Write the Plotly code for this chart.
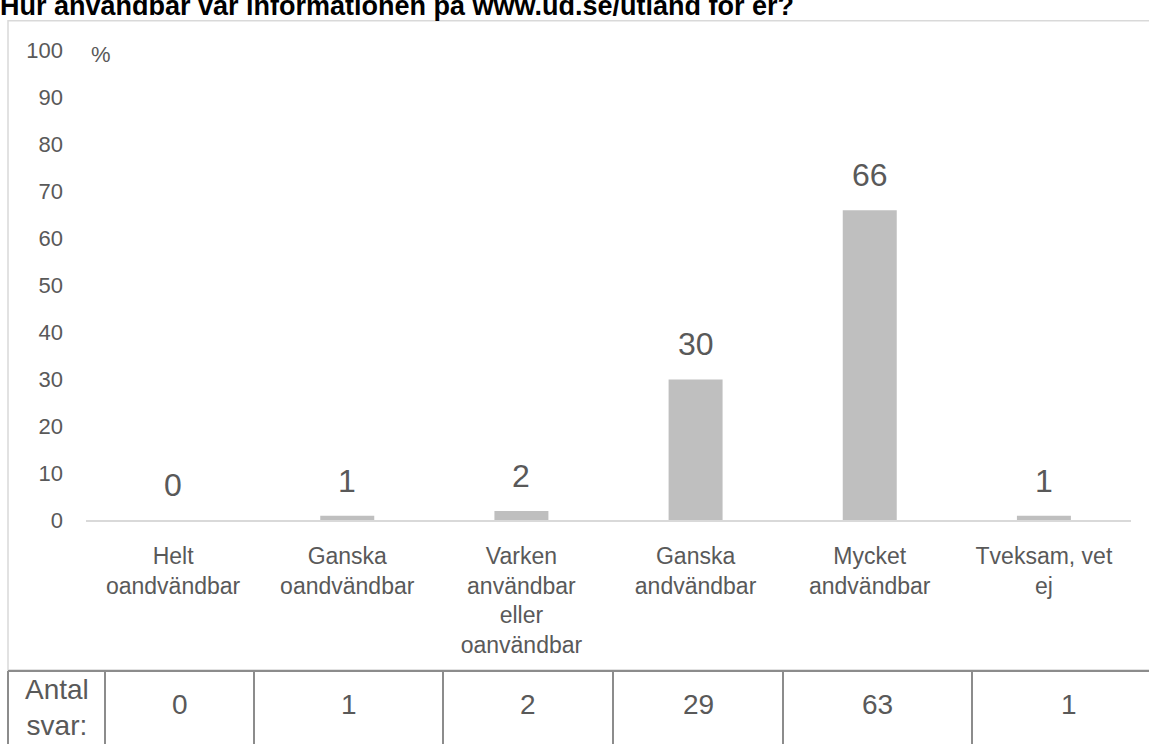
import plotly.graph_objects as go

# Survey answers: share of respondents (%) and number of answers
categories = ["Helt<br>oandvändbar", "Ganska<br>oandvändbar",
              "Varken<br>användbar<br>eller<br>oanvändbar",
              "Ganska<br>andvändbar", "Mycket<br>andvändbar", "Tveksam, vet<br>ej"]
percent = [0, 1, 2, 30, 66, 1]
antal_svar = [0, 1, 2, 29, 63, 1]
y_ticks = [0, 10, 20, 30, 40, 50, 60, 70, 80, 90, 100]

title = "Hur användbar var informationen på www.ud.se/utland för er?"

W, H = 1149, 744
grey_txt = "#595959"
font = "Liberation Sans, Arial, sans-serif"


def px(x):
    return x / W


def py(y):
    return 1 - y / H


fig = go.Figure()
fig.add_trace(go.Bar(x=categories, y=percent, marker=dict(color="#bfbfbf", line=dict(width=0)),
                     width=0.31, hoverinfo="x+y"))

# data labels above the bars
for c, v in zip(categories, percent):
    fig.add_annotation(x=c, y=v, xref="x", yref="y", text=str(v), showarrow=False,
                       yanchor="middle", yshift=35, font=dict(size=32, color=grey_txt))

fig.add_annotation(x=px(101), y=py(44), xref="paper", yref="paper", text="%", showarrow=False,
                   xanchor="center", yanchor="middle", font=dict(size=22, color=grey_txt))

# title, cut at the top like the original
fig.add_annotation(x=0, y=1, xref="paper", yref="paper", text="<b>" + title + "</b>", showarrow=False,
                   xanchor="left", yanchor="bottom", yshift=-11, xshift=-2,
                   font=dict(size=27, color="black"))

shapes = []
# chart frame
shapes.append(dict(type="rect", xref="paper", yref="paper", x0=px(8), x1=px(1160), y0=py(681), y1=py(9),
                   line=dict(color="#d9d9d9", width=1.5), layer="below"))

# table under the chart
col_edges = [8, 105, 254, 443, 613, 783, 972, 1166]
tcol = "#8c8c8c"
shapes.append(dict(type="line", xref="paper", yref="paper", x0=px(8), x1=1.01, y0=py(682), y1=py(682),
                   line=dict(color=tcol, width=2)))
for e in col_edges:
    shapes.append(dict(type="line", xref="paper", yref="paper", x0=px(e), x1=px(e), y0=py(682), y1=-0.02,
                       line=dict(color=tcol, width=2)))

fig.add_annotation(x=px((col_edges[0] + col_edges[1]) / 2), y=py(683), xref="paper", yref="paper",
                   text="Antal<br>svar:", showarrow=False, xanchor="center", yanchor="top",
                   font=dict(size=28, color=grey_txt))
for i, n in enumerate(antal_svar):
    fig.add_annotation(x=px((col_edges[i + 1] + col_edges[i + 2]) / 2), y=py(717), xref="paper", yref="paper",
                       text=str(n), showarrow=False, xanchor="center", yanchor="middle",
                       font=dict(size=28, color=grey_txt))

fig.update_layout(
    width=W, height=H, margin=dict(l=0, r=0, t=0, b=0),
    paper_bgcolor="white", plot_bgcolor="white",
    font=dict(family=font, color=grey_txt, size=22),
    showlegend=False, shapes=shapes,
    xaxis=dict(domain=[px(86), px(1131)], showline=True, linecolor="#d9d9d9", linewidth=1.5,
               showgrid=False, ticks="", tickfont=dict(size=23, color=grey_txt), tickangle=0,
               ticklabelstandoff=14, fixedrange=True),
    yaxis=dict(domain=[py(526), py(40)], range=[0, 100], tickvals=y_ticks, showgrid=False,
               zeroline=False, showline=False, ticks="", ticklabelstandoff=22,
               tickfont=dict(size=22, color=grey_txt), fixedrange=True),
)

fig.write_html("out.html", config={"displayModeBar": False},
               post_script="document.body.style.margin='0';")
